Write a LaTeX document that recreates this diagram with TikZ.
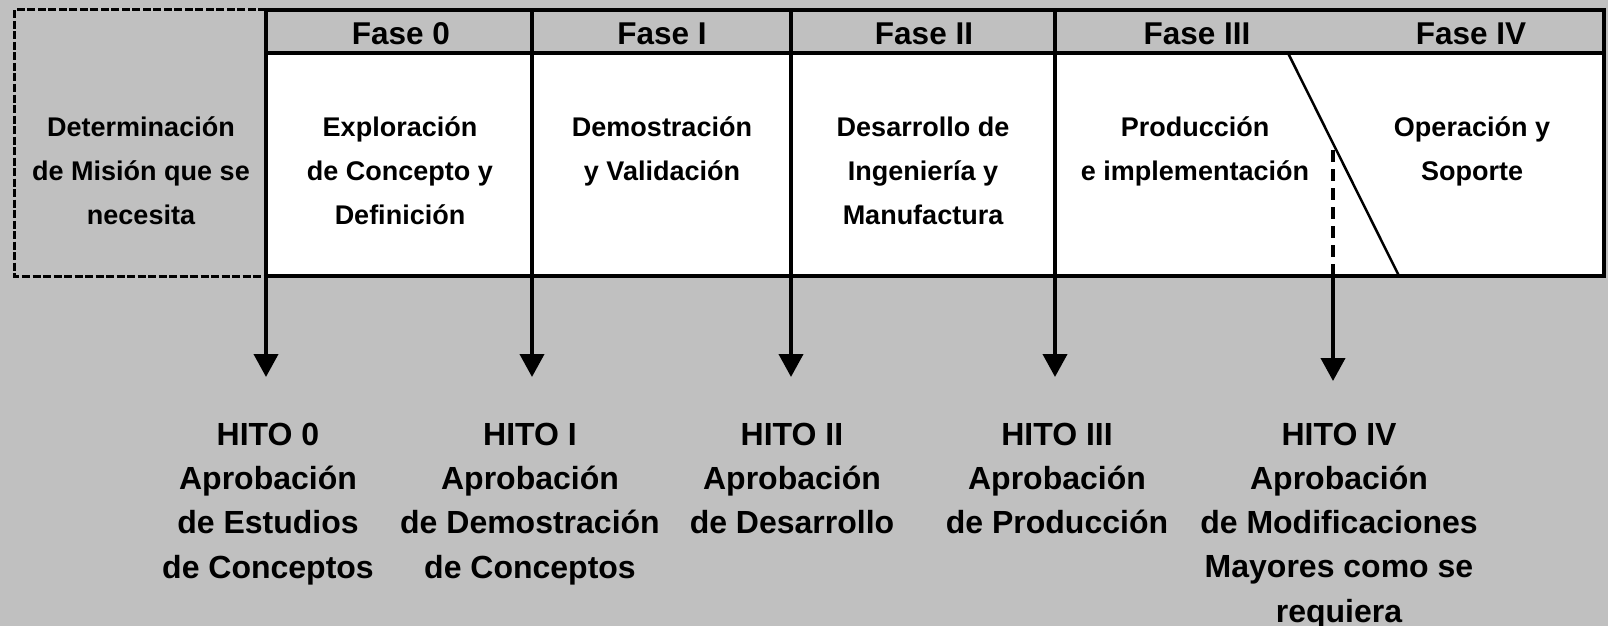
\documentclass[tikz,border=0pt]{standalone}
\usepackage{fontspec}
\setmainfont{Liberation Sans}
\usetikzlibrary{arrows.meta}
\definecolor{bg}{HTML}{C0C0C0}
\begin{document}
\begin{tikzpicture}[x=1pt,y=-1pt,
  frame/.style={line width=4pt},
  arr/.style={line width=4pt,-{Triangle[width=24pt,length=23pt]}},
  dashline/.style={line width=4pt,dash pattern=on 12pt off 7pt},
  hdr/.style={font=\bfseries\fontsize{31.5}{36}\selectfont, anchor=base, inner sep=0pt},
  body/.style={font=\bfseries\fontsize{27}{44}\selectfont, align=center, anchor=base, inner sep=0pt},
  hito/.style={font=\bfseries\fontsize{32}{44.3}\selectfont, align=center, anchor=base, inner sep=0pt},
]
\fill[bg] (0,0) rectangle (1608,626);
\useasboundingbox (0,0) rectangle (1608,626);

% dashed mission box
\draw[dash pattern=on 8pt off 2.5pt, line width=3pt] (266,10) -- (14.5,10) -- (14.5,276) -- (266,276);

% table
\fill[white] (266,53) rectangle (1604,276);
\draw[frame] (266,53) -- (1604,53);
\draw[frame] (266,10) rectangle (1604,276);
\draw[line width=2.5pt] (1288,53) -- (1399,276);

% coordinates
\coordinate (c0) at (266,10);
\coordinate (c1) at (532,10);
\coordinate (c2) at (791,10);
\coordinate (c3) at (1055,10);
\coordinate (s4) at (1333,150);
\coordinate (b4) at (1333,276);
\coordinate (t0) at (266,377);
\coordinate (t1) at (532,377);
\coordinate (t2) at (791,377);
\coordinate (t3) at (1055,377);
\coordinate (t4) at (1333,381);

% header texts
\node[hdr] (f0) at (401,45) {Fase 0};
\node[hdr] (f1) at (662,45) {Fase I};
\node[hdr] (f2) at (924,45) {Fase II};
\node[hdr] (f3) at (1197,45) {Fase III};
\node[hdr] (f4) at (1471,45) {Fase IV};

% body texts (anchor = baseline of last line)
\node[body] (m) at (141,224) {Determinación\\de Misión que se\\necesita};
\node[body] (p0) at (400,224) {Exploración\\de Concepto y\\Definición};
\node[body] (p1) at (662,180) {Demostración\\y Validación};
\node[body] (p2) at (923,224) {Desarrollo de\\Ingeniería y\\Manufactura};
\node[body] (p3) at (1195,180) {Producción\\e implementación};
\node[body] (p4) at (1472,180) {Operación y\\Soporte};

% milestones (anchor = baseline of last line)
\node[hito] (h0) at (268,578) {HITO 0\\Aprobación\\de Estudios\\de Conceptos};
\node[hito] (h1) at (530,578) {HITO I\\Aprobación\\de Demostración\\de Conceptos};
\node[hito] (h2) at (792,533.6) {HITO II\\Aprobación\\de Desarrollo};
\node[hito] (h3) at (1057,533.6) {HITO III\\Aprobación\\de Producción};
\node[hito] (h4) at (1339,622.2) {HITO IV\\Aprobación\\de Modificaciones\\Mayores como se\\requiera};

% arrows
\draw[arr] (c0) -- (t0);
\draw[arr] (c1) -- (t1);
\draw[arr] (c2) -- (t2);
\draw[arr] (c3) -- (t3);
\draw[dashline] (s4) -- (b4);
\draw[arr] (b4) -- (t4);
\end{tikzpicture}
\end{document}
